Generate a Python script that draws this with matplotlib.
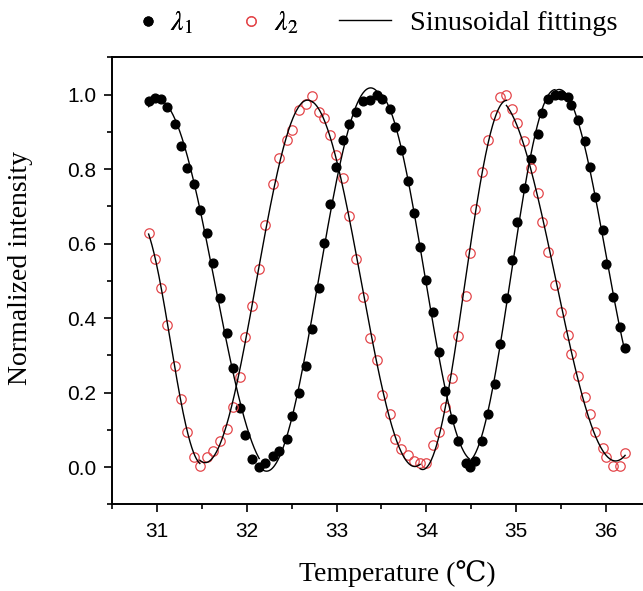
import numpy as np
import matplotlib
matplotlib.use("Agg")
from matplotlib import pyplot as plt

# temperature readings (deg C), shared by both wavelengths
temperature = [30.91, 30.98, 31.05, 31.12, 31.20, 31.27, 31.34, 31.42, 31.48, 31.56,
               31.63, 31.70, 31.78, 31.85, 31.93, 31.98, 32.06, 32.14, 32.21, 32.29,
               32.36, 32.45, 32.51, 32.58, 32.66, 32.73, 32.80, 32.86, 32.93, 32.99,
               33.07, 33.14, 33.22, 33.30, 33.37, 33.45, 33.51, 33.59, 33.65, 33.72,
               33.80, 33.86, 33.93, 34.00, 34.07, 34.14, 34.21, 34.28, 34.35, 34.44,
               34.48, 34.54, 34.62, 34.68, 34.76, 34.82, 34.89, 34.95, 35.01, 35.09,
               35.16, 35.24, 35.29, 35.35, 35.43, 35.50, 35.57, 35.61, 35.69, 35.76,
               35.82, 35.88, 35.96, 36.00, 36.07, 36.15, 36.21]

lambda1 = [0.983, 0.992, 0.987, 0.967, 0.920, 0.862, 0.802, 0.760, 0.690, 0.629,
           0.547, 0.455, 0.359, 0.267, 0.158, 0.085, 0.021, 0.000, 0.012, 0.030,
           0.042, 0.076, 0.138, 0.198, 0.270, 0.371, 0.481, 0.602, 0.706, 0.806,
           0.879, 0.920, 0.953, 0.983, 0.985, 1.000, 0.989, 0.962, 0.913, 0.851,
           0.768, 0.681, 0.590, 0.503, 0.416, 0.308, 0.205, 0.129, 0.069, 0.012,
           0.000, 0.015, 0.071, 0.142, 0.223, 0.331, 0.453, 0.556, 0.658, 0.748,
           0.828, 0.894, 0.951, 0.989, 1.000, 0.998, 0.994, 0.971, 0.931, 0.876,
           0.806, 0.725, 0.636, 0.545, 0.457, 0.375, 0.319]

lambda2 = [0.629, 0.558, 0.482, 0.382, 0.272, 0.183, 0.093, 0.028, 0.002, 0.027,
           0.044, 0.069, 0.103, 0.160, 0.241, 0.350, 0.432, 0.532, 0.651, 0.759,
           0.830, 0.877, 0.904, 0.958, 0.976, 0.995, 0.953, 0.936, 0.891, 0.837,
           0.775, 0.674, 0.558, 0.457, 0.347, 0.288, 0.194, 0.142, 0.076, 0.049,
           0.033, 0.015, 0.011, 0.012, 0.060, 0.094, 0.162, 0.239, 0.352, 0.459,
           0.576, 0.692, 0.791, 0.877, 0.945, 0.994, 1.000, 0.962, 0.924, 0.876,
           0.802, 0.735, 0.657, 0.578, 0.490, 0.417, 0.355, 0.304, 0.245, 0.189,
           0.142, 0.095, 0.051, 0.026, 0.003, 0.003, 0.039]

RED = "#e4474b"
SERIF = ["Liberation Serif", "DejaVu Serif", "Noto Sans CJK SC"]


def find_extrema(x, y, hi=0.85, lo=0.15):
    """rough peak / trough positions and values"""
    found = []
    state, run = None, []
    for xi, yi in list(zip(x, y)) + [(None, 0.5)]:
        s = "hi" if yi > hi else ("lo" if yi < lo else None)
        if s != state and run:
            pick = max(run, key=lambda p: p[1]) if state == "hi" else min(run, key=lambda p: p[1])
            found.append(pick)
            run = []
        state = s
        if s:
            run.append((xi, yi))
    return np.array([f[0] for f in found]), np.array([f[1] for f in found])


def sine(p, x):
    return p[0] + p[1] * np.cos(p[2] * (x - p[3]))


def lm_fit(p, x, y, n_iter=200):
    """Levenberg-Marquardt least squares for sine()"""
    p = np.asarray(p, float)
    err = np.sum((y - sine(p, x)) ** 2)
    lam, h = 1e-3, 1e-6
    for _ in range(n_iter):
        f0 = sine(p, x)
        J = np.empty((len(x), len(p)))
        for k in range(len(p)):
            dp = np.zeros_like(p)
            dp[k] = h
            J[:, k] = (sine(p + dp, x) - f0) / h
        H = J.T @ J
        step = np.linalg.solve(H + lam * np.diag(np.diag(H) + 1e-9), J.T @ (y - f0))
        new = p + step
        new_err = np.sum((y - sine(new, x)) ** 2)
        if new_err < err:
            p, err, lam = new, new_err, lam * 0.3
        else:
            lam *= 10
    return p


def sine_fit(x, y, overlap=0.16):
    """sinusoidal fitting done piece by piece, each piece between two extrema"""
    x = np.asarray(x, float)
    y = np.asarray(y, float)
    ex_x, ex_v = find_extrema(x, y)
    half = np.mean(np.diff(ex_x))
    keep = (ex_x - x.min() > 0.15) & (x.max() - ex_x > 0.15)
    ex_x, ex_v = ex_x[keep], ex_v[keep]
    bounds = [x.min()] + list(ex_x) + [x.max()]
    pieces = []
    for i in range(len(bounds) - 1):
        xa, xb = bounds[i], bounds[i + 1]
        m = (x >= xa - overlap) & (x <= xb + overlap)
        j = max(i - 1, 0)
        p0 = [0.5, 0.5 if ex_v[j] > 0.5 else -0.5, np.pi / half, ex_x[j]]
        pieces.append((xa, xb, lm_fit(p0, x[m], y[m])))
    return pieces


plt.rcParams["font.family"] = ["Liberation Sans", "DejaVu Sans"]
plt.rcParams["mathtext.fontset"] = "stix"

fig = plt.figure(figsize=(6.43, 5.91), dpi=100)
ax = fig.add_axes([0.1738, 0.1467, 0.8389, 0.7563])

p1, = ax.plot(temperature, lambda1, "o", color="black", ms=6.3, zorder=3)
p2, = ax.plot(temperature, lambda2, "o", mfc="none", mec=RED, mew=0.9, ms=6.8, zorder=3)

for series in (lambda1, lambda2):
    for xa, xb, p in sine_fit(temperature, series):
        xx = np.linspace(xa, xb, 200)
        fl, = ax.plot(xx, sine(p, xx), color="black", lw=1.0, zorder=4)

ax.set_xlim(30.5, 36.5)
ax.set_ylim(-0.1, 1.1)
ax.set_xticks([31, 32, 33, 34, 35, 36])
ax.set_xticks(np.arange(30.5, 36.6, 0.5), minor=True)
ax.set_yticks([0.0, 0.2, 0.4, 0.6, 0.8, 1.0])
ax.set_yticks(np.arange(-0.1, 1.11, 0.1), minor=True)
ax.tick_params(which="both", direction="out", width=1.2, labelsize=15, pad=5)
ax.tick_params(which="major", length=6)
ax.tick_params(which="minor", length=3.5)
ax.tick_params(axis="x", which="both", pad=7)
for s in ax.spines.values():
    s.set_linewidth(1.4)

ax.set_xlabel("Temperature (\u2103)", family=SERIF, fontsize=20)
ax.xaxis.set_label_coords(0.529, -0.124)
ax.set_ylabel("Normalized intensity", family=SERIF, fontsize=20)
ax.yaxis.set_label_coords(-0.146, 0.529)

leg1 = fig.legend([p1, p2], [r"$\lambda_1$", r"$\lambda_2$"], loc="center left",
                  bbox_to_anchor=(137 / 643, 0.961), ncol=2, frameon=False,
                  fontsize=20, handlelength=0.8, handletextpad=0.4,
                  columnspacing=1.7, borderpad=0, borderaxespad=0, numpoints=1)
fig.legend([fl], ["Sinusoidal fittings"], loc="center left",
           bbox_to_anchor=(339 / 643, 0.961), frameon=False,
           prop={"family": SERIF, "size": 20.5}, handlelength=1.84,
           handletextpad=0.65, borderpad=0, borderaxespad=0)
fig.add_artist(leg1)

fig.savefig("out.png", dpi=100)
